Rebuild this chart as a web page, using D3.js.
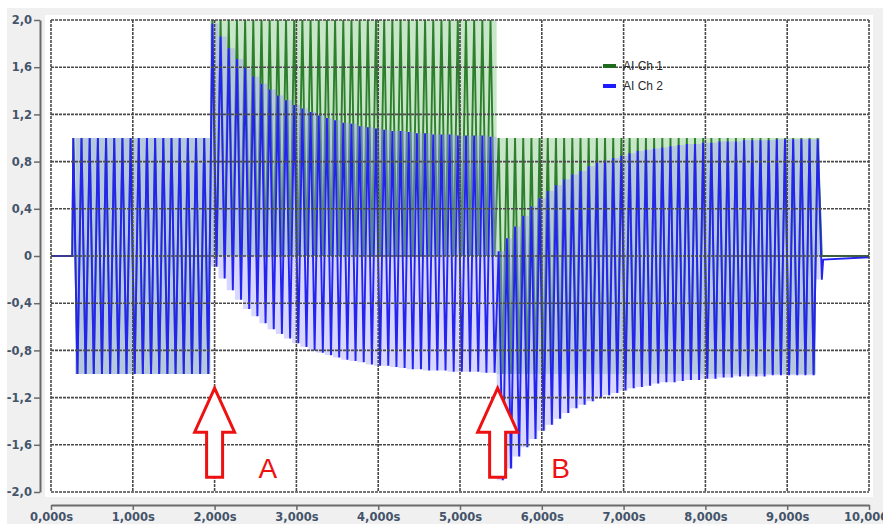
<!DOCTYPE html>
<html>
<head>
<meta charset="utf-8">
<script src="https://cdn.jsdelivr.net/npm/d3@7"></script>
<style>
    html, body { margin: 0; padding: 0; background: #fff; }
    svg { display: block; }
</style>
</head>
<body>
<div id="chart"></div>
<script>
// ---- data ----
var tickX = [0, 1, 2, 3, 4, 5, 6, 7, 8, 9, 10];
var tickY = [2.0, 1.6, 1.2, 0.8, 0.4, 0, -0.4, -0.8, -1.2, -1.6, -2.0];
var seriesNames = ['AI Ch 1', 'AI Ch 2'];

// the square wave: one cycle every 0.1 s, first rising edge at 0.273 s
var pulseStart = 0.273;
var pulsePeriod = 0.1;

// AI Ch 1 (green): runs of cycles with the same high / low level
var greenRunCycles = [17, 35, 39, 1];
var greenRunHigh = [1, 2, 1, 1];
var greenRunLow = [-1, 0, -1, 0];

// AI Ch 2 (blue): peak of every cycle (92 cycles)
var blueHigh = [
    1, 1, 1, 1, 1, 1, 1, 1, 1, 1, 1, 1, 1, 1, 1, 1, 1,
    1.97, 1.86, 1.76, 1.67, 1.59, 1.52, 1.46, 1.41, 1.36, 1.32, 1.28, 1.25, 1.22, 1.19, 1.17, 1.15, 1.13, 1.12,
    1.10, 1.09, 1.08, 1.07, 1.06, 1.06, 1.05, 1.04, 1.04, 1.03, 1.03, 1.03, 1.02, 1.02, 1.02, 1.02, 1.01,
    0.04, 0.15, 0.25, 0.34, 0.42, 0.49, 0.55, 0.60, 0.65, 0.69, 0.72, 0.76, 0.79, 0.81, 0.83, 0.85, 0.87, 0.89,
    0.90, 0.91, 0.92, 0.93, 0.94, 0.95, 0.95, 0.96, 0.96, 0.97, 0.97, 0.97, 0.98, 0.98, 0.98, 0.98, 0.99, 0.99,
    0.99, 0.99, 0.99, 0.99
];
var blueLow = [
    -1, -1, -1, -1, -1, -1, -1, -1, -1, -1, -1, -1, -1, -1, -1, -1, -1,
    -0.09, -0.19, -0.29, -0.37, -0.45, -0.51, -0.57, -0.62, -0.66, -0.70, -0.74, -0.77, -0.80, -0.82, -0.84, -0.86, -0.88, -0.89,
    -0.90, -0.92, -0.93, -0.93, -0.94, -0.95, -0.96, -0.96, -0.97, -0.97, -0.97, -0.98, -0.98, -0.98, -0.98, -0.99, -0.99,
    -1.90, -1.80, -1.70, -1.62, -1.55, -1.48, -1.43, -1.38, -1.33, -1.29, -1.26, -1.23, -1.20, -1.18, -1.16, -1.14, -1.12, -1.11,
    -1.10, -1.08, -1.07, -1.07, -1.06, -1.05, -1.05, -1.04, -1.04, -1.03, -1.03, -1.02, -1.02, -1.02, -1.02, -1.01, -1.01, -1.01,
    -1.01, -1.01, -1.01, -0.20
];

// flat parts before and after the burst
var headTimes = [0, 0.26];
var headGreen = [0, 0];
var headBlue = [0, 0];
var tailTimes = [9.44, 10];
var tailGreen = [0, 0];
var tailBlue = [-0.03, -0.01];

// the two red markers
var markTimes = [2.0, 5.46];
var markLabels = ['A', 'B'];
var markLabelTimes = [2.65, 6.23];
var markTipValue = -1.12;

// ---- layout ----
var W = 883, H = 524;
var margin = { top: 20, right: 14, bottom: 32, left: 51 };
var x = d3.scaleLinear().domain([0, 10]).range([margin.left, W - margin.right]);
var y = d3.scaleLinear().domain([-2, 2]).range([H - margin.bottom, margin.top]);

var svg = d3.select('#chart').append('svg').attr('width', W).attr('height', H);
svg.append('rect').attr('x', 7).attr('y', 8).attr('width', W - 7).attr('height', H - 8).attr('fill', '#f0f0f0');
svg.append('rect')
    .attr('x', x(0) - 6).attr('y', y(2) - 5)
    .attr('width', x(10) - x(0) + 10).attr('height', y(-2) - y(2) + 10)
    .attr('fill', '#fff');

svg.append('clipPath').attr('id', 'plot-clip').append('rect')
    .attr('x', x(0)).attr('y', y(2) - 1)
    .attr('width', x(10) - x(0)).attr('height', y(-2) - y(2) + 2);

// build cycles from the arrays
var green = [];
greenRunCycles.forEach(function (n, r) {
    for (var i = 0; i < n; i++) green.push({ hi: greenRunHigh[r], lo: greenRunLow[r] });
});
var cycles = blueHigh.map(function (h, k) {
    return { t: pulseStart + k * pulsePeriod, gHi: green[k].hi, gLo: green[k].lo, bHi: h, bLo: blueLow[k] };
});

function wavePoints(hiKey, loKey, head, tail) {
    var pts = headTimes.map(function (t, i) { return [t, head[i]]; });
    cycles.forEach(function (c) {
        pts.push([c.t, c[hiKey]]);
        pts.push([c.t + pulsePeriod / 2, c[loKey]]);
    });
    tailTimes.forEach(function (t, i) { pts.push([t, tail[i]]); });
    return pts;
}

var line = d3.line().x(function (d) { return x(d[0]); }).y(function (d) { return y(d[1]); });
var band = function (hiKey, loKey) {
    return d3.area()
        .curve(d3.curveStep)
        .x(function (d) { return x(d.t + pulsePeriod / 4); })
        .y0(function (d) { return y(d[loKey]); })
        .y1(function (d) { return y(d[hiKey]); });
};

var plot = svg.append('g').attr('clip-path', 'url(#plot-clip)');

// green channel
plot.append('path').datum(cycles).attr('d', band('gHi', 'gLo'))
    .attr('fill', '#86c886').attr('opacity', 0.45);
plot.append('path').datum(wavePoints('gHi', 'gLo', headGreen, tailGreen)).attr('d', line)
    .attr('fill', 'none').attr('stroke', '#2d7f2d').attr('stroke-width', 1.9);

// blue channel
plot.append('path').datum(cycles).attr('d', band('bHi', 'bLo'))
    .attr('fill', '#9c9cff').attr('opacity', 0.4);
plot.append('path').datum(wavePoints('bHi', 'bLo', headBlue, tailBlue)).attr('d', line)
    .attr('fill', 'none').attr('stroke', '#2424ee').attr('stroke-width', 1.9);

// grid (dotted, on top like the original)
var grid = svg.append('g').attr('class', 'grid')
    .attr('stroke', '#4a4a4a').attr('stroke-width', 1.6).attr('stroke-dasharray', '3,1');
grid.selectAll('line.gx').data(tickX).enter().append('line')
    .attr('x1', d => x(d)).attr('x2', d => x(d)).attr('y1', y(2)).attr('y2', y(-2));
grid.selectAll('line.gy').data(tickY).enter().append('line')
    .attr('x1', x(0)).attr('x2', x(10)).attr('y1', d => y(d)).attr('y2', d => y(d));

// axes
var fmtY = d => d === 0 ? '0' : d.toFixed(1).replace('.', ',');
var fmtX = d => d.toFixed(3).replace('.', ',') + 's';

var axisY = svg.append('g').attr('transform', 'translate(40,0)')
    .call(d3.axisLeft(y).tickValues(tickY).tickFormat(fmtY).tickSize(6).tickSizeOuter(0).tickPadding(2));
var axisX = svg.append('g').attr('transform', 'translate(0,505)')
    .call(d3.axisBottom(x).tickValues(tickX).tickFormat(fmtX).tickSize(5).tickSizeOuter(0).tickPadding(3));
[axisY, axisX].forEach(function (a) {
    a.select('.domain').attr('stroke', '#6a6a6a').attr('stroke-width', 2);
    a.selectAll('.tick line').attr('stroke', '#6a6a6a').attr('stroke-width', 1.5);
    a.selectAll('.tick text')
        .attr('fill', '#44546a')
        .attr('font-family', 'Verdana, "DejaVu Sans", sans-serif')
        .attr('font-weight', 'bold')
        .attr('font-size', 11.5);
});

// legend
var legendColors = ['#1e6b1e', '#1c1cff'];
var legend = svg.append('g').attr('transform', 'translate(603,66)');
seriesNames.forEach(function (name, i) {
    var g = legend.append('g').attr('transform', 'translate(0,' + (i * 20) + ')');
    g.append('line').attr('x1', 0).attr('x2', 13).attr('stroke', legendColors[i]).attr('stroke-width', 4);
    g.append('text').attr('x', 20).attr('y', 4).text(name)
        .attr('font-family', 'Arial, "Liberation Sans", sans-serif').attr('font-size', 12).attr('fill', '#2a2a2a');
});

// red arrows with letters
var tipY = y(markTipValue);
markTimes.forEach(function (t, i) {
    var cx = x(t);
    var p = d3.path();
    p.moveTo(cx, tipY);
    p.lineTo(cx + 20, tipY + 44);
    p.lineTo(cx + 8, tipY + 44);
    p.lineTo(cx + 8, tipY + 89);
    p.lineTo(cx - 8, tipY + 89);
    p.lineTo(cx - 8, tipY + 44);
    p.lineTo(cx - 20, tipY + 44);
    p.closePath();
    svg.append('path').attr('d', p.toString())
        .attr('fill', '#fff').attr('stroke', '#ee1111').attr('stroke-width', 3).attr('stroke-linejoin', 'miter');
    svg.append('text').attr('x', x(markLabelTimes[i])).attr('y', tipY + 90)
        .attr('text-anchor', 'middle').text(markLabels[i])
        .attr('font-family', 'Arial, "Liberation Sans", sans-serif').attr('font-size', 28).attr('fill', '#ee1111');
});
</script>
</body>
</html>
